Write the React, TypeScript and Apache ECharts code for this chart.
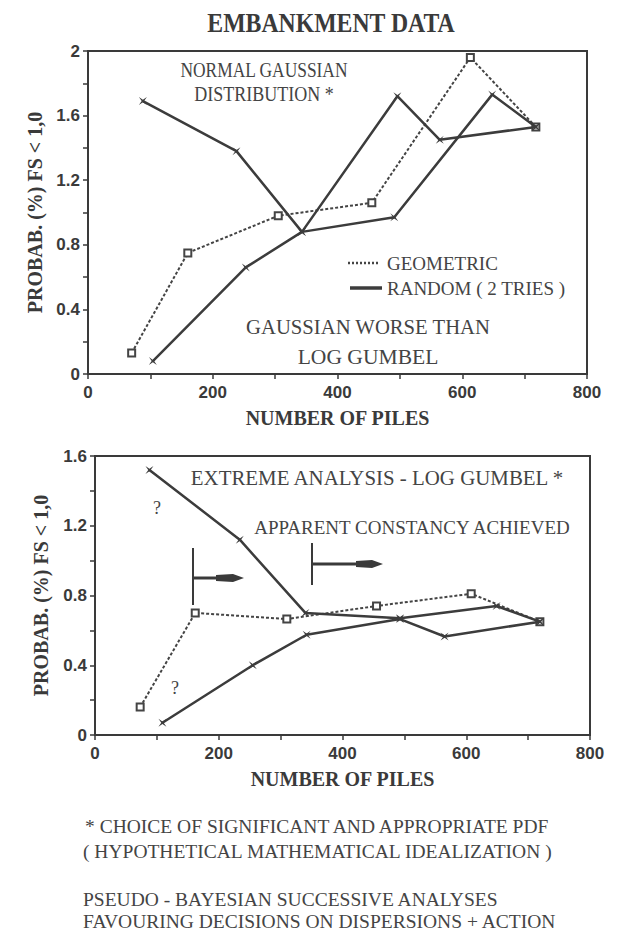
import React, { useEffect, useRef } from "react";
import * as echarts from "echarts";

// ---------- data ----------
const xTickLabels = [0, 200, 400, 600, 800];
const topYLabels = [0, 0.4, 0.8, 1.2, 1.6, 2];
const botYLabels = [0, 0.4, 0.8, 1.2, 1.6];

const topGeometric = [[70, 0.13], [160, 0.75], [305, 0.98], [455, 1.06], [613, 1.96], [718, 1.53]];
const topRandomA = [[88, 1.69], [238, 1.38], [343, 0.88], [496, 1.72], [564, 1.45], [718, 1.53]];
const topRandomB = [[104, 0.08], [253, 0.66], [343, 0.88], [491, 0.97], [648, 1.73], [718, 1.53]];

const botGeometric = [[73, 0.16], [162, 0.7], [310, 0.665], [455, 0.74], [608, 0.81], [719, 0.65]];
const botExtreme = [[88, 1.52], [234, 1.12], [340, 0.7], [493, 0.67], [649, 0.74], [719, 0.65]];
const botRandom = [[109, 0.07], [255, 0.4], [342, 0.575], [493, 0.665], [565, 0.565], [719, 0.65]];

const INK = "#3a3a3a";
const TEXT = "#444";
const SERIF = "'Liberation Serif', 'DejaVu Serif', serif";
const SANS = "'Liberation Sans', Arial, sans-serif";
const STAR = "path://M0,0 L5,3.5 L10,0 L6.5,5 L10,10 L5,6.5 L0,10 L3.5,5 Z";

function isOn(v: number, list: number[]) {
  return list.some((t) => Math.abs(t - v) < 1e-6);
}

function xAxisCfg(gridIndex: number) {
  return {
    type: "value",
    gridIndex,
    min: 0,
    max: 800,
    interval: 100,
    name: "NUMBER OF PILES",
    nameLocation: "middle",
    nameGap: 34,
    nameTextStyle: { fontFamily: SERIF, fontWeight: "bold", fontSize: 20, color: INK },
    axisLine: { show: true, lineStyle: { color: INK, width: 2 } },
    axisTick: { show: true, length: 5, lineStyle: { color: INK, width: 1.5 } },
    splitLine: { show: false },
    axisLabel: {
      margin: 10,
      fontFamily: SANS,
      fontWeight: "bold",
      fontSize: 17,
      color: INK,
      formatter: (v: number) => (isOn(v, xTickLabels) ? String(v) : ""),
    },
  };
}

function yAxisCfg(gridIndex: number, max: number, labels: number[], nameGap: number) {
  return {
    type: "value",
    gridIndex,
    min: 0,
    max,
    interval: 0.2,
    name: "PROBAB. (%) FS < 1,0",
    nameLocation: "middle",
    nameRotate: 90,
    nameGap,
    nameTextStyle: { fontFamily: SERIF, fontWeight: "bold", fontSize: 20, color: INK },
    axisLine: { show: true, lineStyle: { color: INK, width: 2 } },
    axisTick: { show: true, length: 5, lineStyle: { color: INK, width: 1.5 } },
    splitLine: { show: false },
    axisLabel: {
      margin: 8,
      fontFamily: SANS,
      fontWeight: "bold",
      fontSize: 17,
      color: INK,
      formatter: (v: number) => (isOn(v, labels) ? String(Math.round(v * 10) / 10) : ""),
    },
  };
}

function geomSeries(data: number[][], idx: number) {
  return {
    type: "line",
    name: "GEOMETRIC",
    xAxisIndex: idx,
    yAxisIndex: idx,
    data,
    symbol: "emptyRect",
    symbolSize: 7,
    lineStyle: { color: "#444", width: 2, type: [3, 2] },
    itemStyle: { color: "#444", borderWidth: 1.5 },
    z: 3,
  };
}

function randSeries(data: number[][], idx: number) {
  return {
    type: "line",
    name: "RANDOM ( 2 TRIES )",
    xAxisIndex: idx,
    yAxisIndex: idx,
    data,
    symbol: STAR,
    symbolSize: 8,
    lineStyle: { color: "#3c3c3c", width: 2.5 },
    itemStyle: { color: "#3c3c3c" },
    z: 4,
  };
}

function txt(text: string, x: number, y: number, size: number, opts: any = {}) {
  return {
    type: "text",
    x,
    y,
    z: 10,
    scaleX: opts.scaleX || 1,
    style: {
      text,
      font: `${opts.bold ? "bold " : ""}${size}px ${SERIF}`,
      fill: opts.fill || TEXT,
      textAlign: opts.align || "center",
      textVerticalAlign: "middle",
    },
  };
}

export default function App() {
  const ref = useRef<HTMLDivElement>(null);

  useEffect(() => {
    if (!ref.current) return;
    const chart = echarts.init(ref.current, undefined, { renderer: "svg" });

    const option: any = {
      animation: false,
      backgroundColor: "#fff",
      grid: [
        { left: 88, top: 51, width: 499, height: 323, show: true, borderColor: INK, borderWidth: 2 },
        { left: 95, top: 456, width: 495, height: 279, show: true, borderColor: INK, borderWidth: 2 },
      ],
      xAxis: [xAxisCfg(0), xAxisCfg(1)],
      yAxis: [yAxisCfg(0, 2, topYLabels, 41), yAxisCfg(1, 1.6, botYLabels, 44)],
      series: [
        geomSeries(topGeometric, 0),
        randSeries(topRandomA, 0),
        randSeries(topRandomB, 0),
        geomSeries(botGeometric, 1),
        randSeries(botExtreme, 1),
        randSeries(botRandom, 1),
      ],
      graphic: [
        txt("EMBANKMENT DATA", 331, 23, 27, { bold: true, fill: INK, scaleX: 0.88 }),
        txt("NORMAL GAUSSIAN", 264, 70, 20, { scaleX: 0.87 }),
        txt("DISTRIBUTION *", 264, 94, 20, { scaleX: 0.9 }),
        // legend
        {
          type: "line",
          z: 10,
          shape: { x1: 348, y1: 263, x2: 380, y2: 263 },
          style: { stroke: "#444", lineWidth: 2.5, lineDash: [2, 2] },
        },
        txt("GEOMETRIC", 387, 263, 19, { align: "left" }),
        {
          type: "line",
          z: 10,
          shape: { x1: 350, y1: 288, x2: 382, y2: 288 },
          style: { stroke: "#3c3c3c", lineWidth: 3.5 },
        },
        txt("RANDOM ( 2 TRIES )", 387, 288, 19, { align: "left" }),
        txt("GAUSSIAN WORSE THAN", 368, 327, 22, { scaleX: 0.94 }),
        txt("LOG GUMBEL", 368, 357, 22, { scaleX: 0.98 }),
        // bottom annotations
        txt("EXTREME ANALYSIS - LOG GUMBEL *", 377, 478, 22, { scaleX: 0.95 }),
        txt("APPARENT CONSTANCY ACHIEVED", 412, 527, 19),
        txt("?", 157, 508, 18),
        txt("?", 175, 688, 18),
        // arrow 1
        {
          type: "line",
          z: 10,
          shape: { x1: 193, y1: 548, x2: 193, y2: 605 },
          style: { stroke: INK, lineWidth: 2 },
        },
        {
          type: "line",
          z: 10,
          shape: { x1: 193, y1: 578, x2: 225, y2: 578 },
          style: { stroke: INK, lineWidth: 3 },
        },
        {
          type: "polygon",
          z: 10,
          shape: { points: [[216, 575], [233, 574], [244, 578], [233, 582], [216, 581]] },
          style: { fill: INK },
        },
        // arrow 2
        {
          type: "line",
          z: 10,
          shape: { x1: 312, y1: 543, x2: 312, y2: 585 },
          style: { stroke: INK, lineWidth: 2 },
        },
        {
          type: "line",
          z: 10,
          shape: { x1: 312, y1: 564, x2: 364, y2: 564 },
          style: { stroke: INK, lineWidth: 3 },
        },
        {
          type: "polygon",
          z: 10,
          shape: { points: [[356, 561], [372, 560], [383, 564], [372, 568], [356, 567]] },
          style: { fill: INK },
        },
        // footnotes
        txt("* CHOICE OF SIGNIFICANT AND APPROPRIATE PDF", 85, 826, 19.5, { align: "left" }),
        txt("( HYPOTHETICAL MATHEMATICAL IDEALIZATION )", 83, 851, 19.5, { align: "left" }),
        txt("PSEUDO - BAYESIAN SUCCESSIVE ANALYSES", 83, 899, 19.5, { align: "left" }),
        txt("FAVOURING DECISIONS ON DISPERSIONS + ACTION", 83, 921, 19.5, { align: "left" }),
      ],
    };

    chart.setOption(option);
    return () => chart.dispose();
  }, []);

  return (
    <div
      ref={ref}
      style={{ position: "absolute", left: 0, top: 0, width: 621, height: 934, background: "#fff" }}
    />
  );
}
